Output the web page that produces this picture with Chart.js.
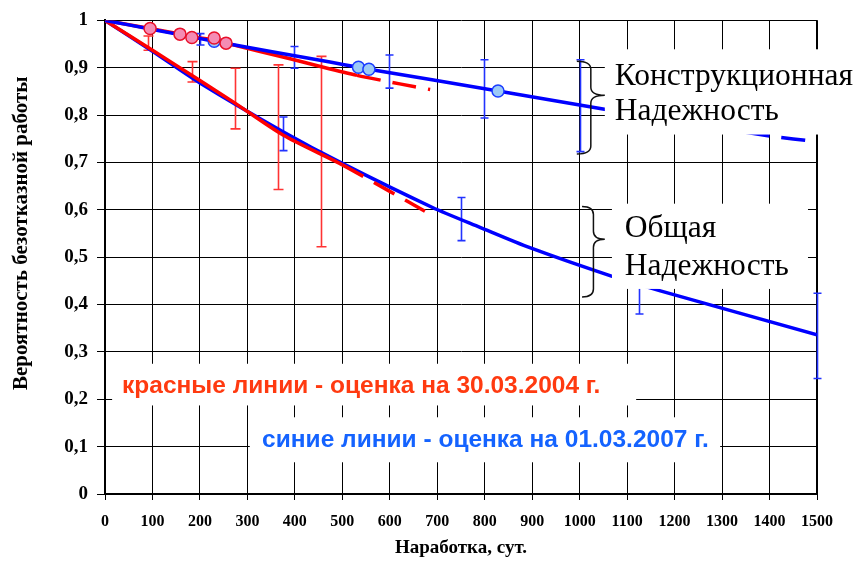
<!DOCTYPE html>
<html>
<head>
<meta charset="utf-8">
<script src="https://cdn.jsdelivr.net/npm/chart.js@4/dist/chart.umd.min.js"></script>
<style>
  html, body { margin: 0; padding: 0; background: #fff; }
</style>
</head>
<body>
<canvas id="chart" width="860" height="562"></canvas>
<script>
// estimate of 30.03.2004 (red)
const redConstrX = [0, 95, 158, 183, 230, 255, 390, 460, 531, 621, 685];
const redConstrY = [1, 0.983, 0.971, 0.965, 0.959, 0.952, 0.919, 0.901, 0.884, 0.866, 0.854];
const redTotalX = [0, 100, 200, 270, 375, 500, 600, 674];
const redTotalY = [1, 0.937, 0.873, 0.828, 0.758, 0.695, 0.639, 0.597];
const redPointsX = [95, 158, 183, 230, 255];
const redPointsY = [0.983, 0.971, 0.964, 0.963, 0.952];
const redErrX = [91, 183, 274, 365, 456];
const redErrLo = [0.937, 0.870, 0.771, 0.643, 0.522];
const redErrHi = [0.967, 0.913, 0.899, 0.906, 0.924];

// estimate of 01.03.2007 (blue)
const blueConstrX = [0, 95, 230, 474, 534, 556, 828, 1043, 1200, 1400, 1500];
const blueConstrY = [1, 0.982, 0.956, 0.912, 0.901, 0.897, 0.851, 0.814, 0.788, 0.756, 0.744];
const blueTotalX = [0, 100, 200, 375, 500, 690, 790, 895, 1067, 1170, 1500];
const blueTotalY = [1, 0.935, 0.868, 0.765, 0.698, 0.605, 0.563, 0.520, 0.460, 0.429, 0.336];
const bluePointsX = [230, 534, 556, 828];
const bluePointsY = [0.956, 0.901, 0.897, 0.851];
const blueErrX = [200, 375, 398, 598, 751, 798, 1000, 1126, 1500];
const blueErrLo = [0.948, 0.725, 0.899, 0.857, 0.535, 0.794, 0.723, 0.380, 0.244];
const blueErrHi = [0.972, 0.796, 0.945, 0.927, 0.626, 0.917, 0.917, 0.470, 0.424];

// where the lines turn into dashed extrapolation
const redConstrDashFrom = 531;
const redTotalDashFrom = 500;
const blueConstrDashFrom = 1200;

const SERIF = "'Liberation Serif', 'Times New Roman', serif";
const SANS = "'Liberation Sans', Arial, sans-serif";
const RED = '#ff0000';
const BLUE = '#0000ff';

function pts(xs, ys) {
  return xs.map((x, i) => ({ x: x, y: ys[i] }));
}

function dashAfter(from) {
  return ctx => ctx.p0.parsed.x >= from - 0.001 ? [24, 12] : undefined;
}

// notes placed in data units so they follow the axes
const notes = {
  redText: { x: 36, y: 0.227, box: [15, 1119, 0.275, 0.187] },
  blueText: { x: 331, y: 0.113, box: [305, 1296, 0.162, 0.067] },
  constr: { x: 1074, y1: 0.882, y2: 0.807, box: [1053, 1600, 0.939, 0.759],
            brace: [994, 1053, 0.914, 0.842, 0.718] },
  total: { x: 1095, y1: 0.561, y2: 0.479, box: [1068, 1481, 0.613, 0.433],
           brace: [1005, 1053, 0.607, 0.538, 0.416] }
};

function errorBars(ctx, xs, lo, hi, xScale, yScale, color, cap) {
  ctx.save();
  ctx.strokeStyle = color;
  ctx.lineWidth = 1.6;
  xs.forEach((v, i) => {
    const px = Math.round(xScale.getPixelForValue(v)) + 0.5;
    const y1 = yScale.getPixelForValue(lo[i]);
    const y2 = yScale.getPixelForValue(hi[i]);
    ctx.beginPath();
    ctx.moveTo(px, y1); ctx.lineTo(px, y2);
    ctx.moveTo(px - cap, y1); ctx.lineTo(px + cap, y1);
    ctx.moveTo(px - cap, y2); ctx.lineTo(px + cap, y2);
    ctx.stroke();
  });
  ctx.restore();
}

function whiteBox(ctx, b, xs, ys) {
  const x1 = xs.getPixelForValue(b[0]), x2 = xs.getPixelForValue(b[1]);
  const y1 = ys.getPixelForValue(b[2]), y2 = ys.getPixelForValue(b[3]);
  ctx.fillStyle = '#fff';
  ctx.fillRect(x1, y1, x2 - x1, y2 - y1);
}

function brace(ctx, b, xs, ys) {
  const xl = xs.getPixelForValue(b[0]), xr = xs.getPixelForValue(b[1]);
  const yt = ys.getPixelForValue(b[2]), ym = ys.getPixelForValue(b[3]);
  const yb = ys.getPixelForValue(b[4]);
  const xm = (xl + xr) / 2, r = 8;
  ctx.save();
  ctx.strokeStyle = '#111';
  ctx.lineWidth = 1.5;
  ctx.beginPath();
  ctx.moveTo(xl, yt);
  ctx.quadraticCurveTo(xm, yt, xm, yt + r);
  ctx.lineTo(xm, ym - r);
  ctx.quadraticCurveTo(xm, ym, xr, ym);
  ctx.quadraticCurveTo(xm, ym, xm, ym + r);
  ctx.lineTo(xm, yb - r);
  ctx.quadraticCurveTo(xm, yb, xl, yb);
  ctx.stroke();
  ctx.restore();
}

const overlay = {
  id: 'overlay',
  beforeDatasetsDraw(chart) {
    const { ctx, chartArea: a, scales: { x, y } } = chart;
    ctx.save();
    ctx.strokeStyle = '#000';
    ctx.lineWidth = 2;
    ctx.beginPath();
    ctx.moveTo(a.right, a.top); ctx.lineTo(a.right, a.bottom);
    ctx.stroke();
    ctx.restore();
    errorBars(ctx, redErrX, redErrLo, redErrHi, x, y, '#ff3333', 5);
    errorBars(ctx, blueErrX, blueErrLo, blueErrHi, x, y, '#2233ff', 4);
  },
  afterDatasetsDraw(chart) {
    const { ctx, scales: { x, y } } = chart;
    ctx.save();
    Object.values(notes).forEach(n => whiteBox(ctx, n.box, x, y));

    ctx.textBaseline = 'middle';
    ctx.textAlign = 'left';
    ctx.font = 'bold 24.5px ' + SANS;
    ctx.fillStyle = '#ff3a10';
    ctx.fillText('красные линии - оценка на 30.03.2004 г.',
      x.getPixelForValue(notes.redText.x), y.getPixelForValue(notes.redText.y));
    ctx.fillStyle = '#1463ff';
    ctx.fillText('синие линии - оценка на 01.03.2007 г.',
      x.getPixelForValue(notes.blueText.x), y.getPixelForValue(notes.blueText.y));

    ctx.font = '31.5px ' + SERIF;
    ctx.fillStyle = '#000';
    const c = notes.constr, t = notes.total;
    ctx.fillText('Конструкционная', x.getPixelForValue(c.x), y.getPixelForValue(c.y1));
    ctx.fillText('Надежность', x.getPixelForValue(c.x), y.getPixelForValue(c.y2));
    ctx.fillText('Общая', x.getPixelForValue(t.x), y.getPixelForValue(t.y1));
    ctx.fillText('Надежность', x.getPixelForValue(t.x), y.getPixelForValue(t.y2));
    ctx.restore();

    brace(ctx, c.brace, x, y);
    brace(ctx, t.brace, x, y);

    // y axis title
    ctx.save();
    ctx.translate(22, (chart.chartArea.top + chart.chartArea.bottom) / 2 - 24);
    ctx.rotate(-Math.PI / 2);
    ctx.font = 'bold 21px ' + SERIF;
    ctx.fillStyle = '#000';
    ctx.textAlign = 'center';
    ctx.textBaseline = 'middle';
    ctx.fillText('Вероятность безотказной работы', 0, 0);
    ctx.restore();
  }
};

const lineStyle = { pointRadius: 0, borderWidth: 3.5, fill: false, tension: 0.25 };

new Chart(document.getElementById('chart'), {
  type: 'line',
  data: {
    datasets: [
      { ...lineStyle, data: pts(redPointsX, redPointsY), showLine: false,
        pointRadius: 6, pointBackgroundColor: '#f48cb4', pointBorderColor: '#e8102a',
        pointBorderWidth: 1.5, order: 0 },
      { ...lineStyle, data: pts(bluePointsX, bluePointsY), showLine: false,
        pointRadius: 6, pointBackgroundColor: '#9ccaf6', pointBorderColor: '#1a3cff',
        pointBorderWidth: 1.5, order: 1 },
      { ...lineStyle, data: pts(redConstrX, redConstrY), borderColor: RED,
        segment: { borderDash: dashAfter(redConstrDashFrom) }, order: 3 },
      { ...lineStyle, data: pts(blueConstrX, blueConstrY), borderColor: BLUE,
        segment: { borderDash: dashAfter(blueConstrDashFrom) }, order: 2 },
      { ...lineStyle, data: pts(redTotalX, redTotalY), borderColor: RED,
        segment: { borderDash: dashAfter(redTotalDashFrom) }, order: 4 },
      { ...lineStyle, data: pts(blueTotalX, blueTotalY), borderColor: BLUE, order: 5 }
    ]
  },
  options: {
    responsive: false,
    animation: false,
    layout: { padding: { top: 18, right: 43, left: 0, bottom: 0 } },
    plugins: { legend: { display: false }, tooltip: { enabled: false } },
    scales: {
      x: {
        type: 'linear', min: 0, max: 1500,
        afterFit: s => { s.height = 68; },
        ticks: { stepSize: 100, color: '#000', padding: 12,
                 font: { family: SERIF, size: 16, weight: 'bold' },
                 callback: v => String(v) },
        grid: { color: '#000', lineWidth: 1, tickLength: 6 },
        border: { color: '#000', width: 2 },
        title: { display: true, text: 'Наработка, сут.', color: '#000',
                 font: { family: SERIF, size: 19, weight: 'bold' },
                 padding: { top: 0, bottom: 3 } }
      },
      y: {
        min: 0, max: 1,
        afterFit: s => { s.width = 105; },
        ticks: { stepSize: 0.1, color: '#000', padding: 9,
                 font: { family: SERIF, size: 19, weight: 'bold' },
                 callback: v => String(Math.round(v * 10) / 10).replace('.', ',') },
        grid: { color: '#000', lineWidth: 1, tickLength: 8 },
        border: { color: '#000', width: 2 }
      }
    }
  },
  plugins: [overlay]
});
</script>
</body>
</html>
